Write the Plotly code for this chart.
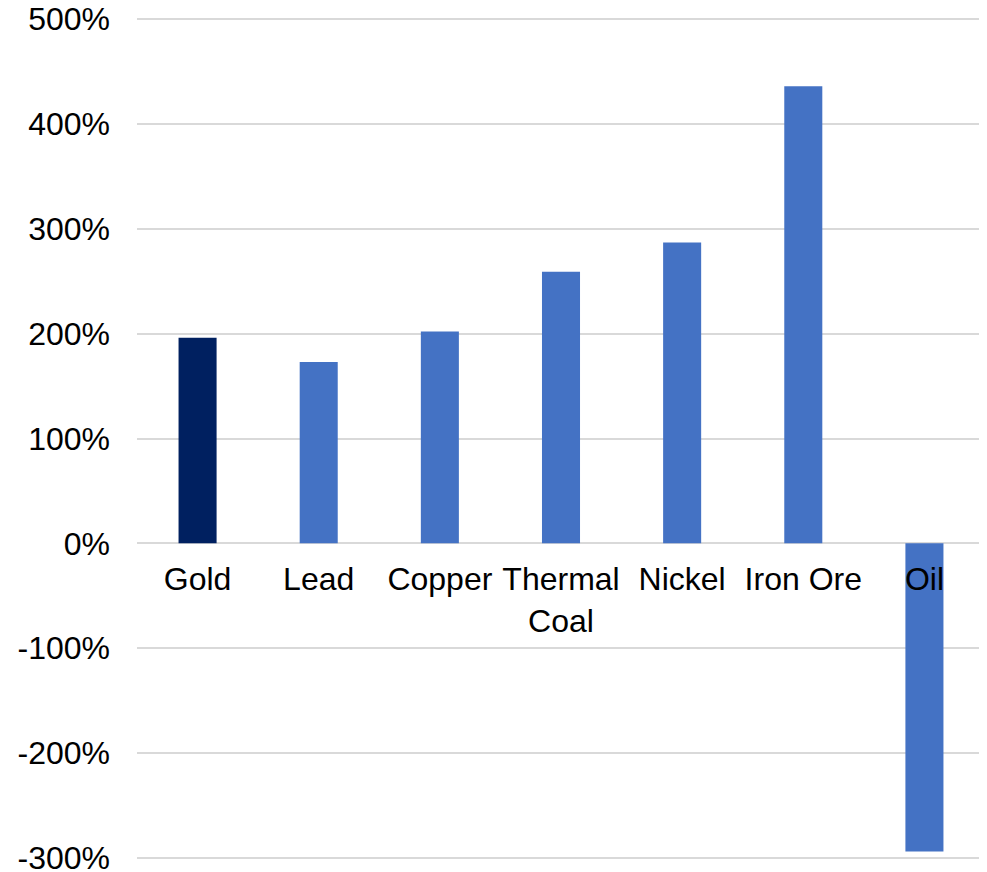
import plotly.graph_objects as go

# commodity returns (%)
categories = ["Gold", "Lead", "Copper", "Thermal<br>Coal", "Nickel", "Iron Ore", "Oil"]
values = [196, 173, 202, 259, 287, 436, -294]
bar_colors = ["#002060", "#4472C4", "#4472C4", "#4472C4", "#4472C4", "#4472C4", "#4472C4"]

y_ticks = [-300, -200, -100, 0, 100, 200, 300, 400, 500]
y_labels = [f"{v}%" for v in y_ticks]
y_range = [-302, 502]  # a hair past the end ticks so their gridlines are kept

fig = go.Figure()
fig.add_trace(go.Bar(
    x=categories, y=values,
    marker_color=bar_colors, marker_line_width=0,
    width=0.314,
))

# page body adds an 8px offset, so the figure is sized to land where the original sits
fig.update_layout(
    width=979, height=864,
    margin=dict(l=129, r=2, t=9, b=12),
    plot_bgcolor="white", paper_bgcolor="white",
    font=dict(family="Liberation Sans, Arial", size=32, color="black"),
    showlegend=False,
)
fig.update_yaxes(
    range=y_range, tickvals=y_ticks, ticktext=y_labels,
    showgrid=True, gridcolor="#d9d9d9", gridwidth=1.5,
    zeroline=False, showline=False, ticks="",
    ticklabelstandoff=26, ticklabeloverflow="allow", automargin=False,
)
fig.update_xaxes(
    anchor="free", position=(0 - y_range[0]) / (y_range[1] - y_range[0]),
    showgrid=False, showline=False, zeroline=False, ticks="",
    ticklabelstandoff=14, automargin=False,
)

fig.write_html("out.html")
